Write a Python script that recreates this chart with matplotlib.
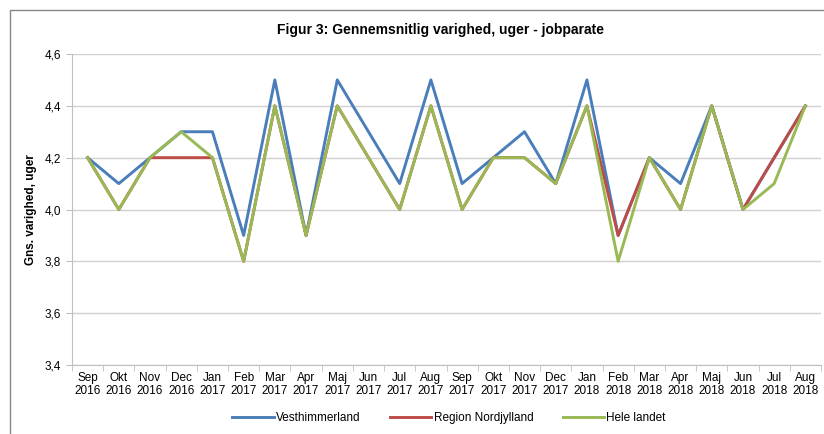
import numpy as np
import matplotlib
matplotlib.use("Agg")
from matplotlib import pyplot as plt
from matplotlib.patches import Rectangle

plt.rcParams['font.family'] = ['Liberation Sans', 'DejaVu Sans']

months = ["Sep", "Okt", "Nov", "Dec", "Jan", "Feb", "Mar", "Apr", "Maj", "Jun", "Jul", "Aug",
          "Sep", "Okt", "Nov", "Dec", "Jan", "Feb", "Mar", "Apr", "Maj", "Jun", "Jul", "Aug"]
years = ["2016"] * 4 + ["2017"] * 12 + ["2018"] * 8
labels = [m + "\n" + y for m, y in zip(months, years)]

vesthimmerland = [4.2, 4.1, 4.2, 4.3, 4.3, 3.9, 4.5, 3.9, 4.5, 4.3, 4.1, 4.5,
                  4.1, 4.2, 4.3, 4.1, 4.5, 3.9, 4.2, 4.1, 4.4, 4.0, 4.2, 4.4]
nordjylland = [4.2, 4.0, 4.2, 4.2, 4.2, 3.8, 4.4, 3.9, 4.4, 4.2, 4.0, 4.4,
               4.0, 4.2, 4.2, 4.1, 4.4, 3.9, 4.2, 4.0, 4.4, 4.0, 4.2, 4.4]
hele_landet = [4.2, 4.0, 4.2, 4.3, 4.2, 3.8, 4.4, 3.9, 4.4, 4.2, 4.0, 4.4,
               4.0, 4.2, 4.2, 4.1, 4.4, 3.8, 4.2, 4.0, 4.4, 4.0, 4.1, 4.4]

fig = plt.figure(figsize=(8.24, 4.34), dpi=100)
# partial chart frame like the cropped Excel chart
fig.patches.append(Rectangle((10 / 824, -0.1), 1.2, 1 - 10 / 434 + 0.1,
                             transform=fig.transFigure, fill=False,
                             edgecolor="#868686", linewidth=1.0))

ax = fig.add_axes([72 / 824, 1 - 365 / 434, (821 - 72) / 824, (365 - 54) / 434])
x = np.arange(len(labels))
ax.plot(x, vesthimmerland, color="#4a7ebb", lw=2.1, label="Vesthimmerland")
ax.plot(x, nordjylland, color="#be4b48", lw=2.1, label="Region Nordjylland")
ax.plot(x, hele_landet, color="#98b954", lw=2.1, label="Hele landet")

ax.set_xlim(-0.5, len(labels) - 0.5)
ax.set_ylim(3.4, 4.6)
yt = np.arange(3.4, 4.61, 0.2)
ax.set_yticks(yt)
ax.set_yticklabels([f"{v:.1f}".replace(".", ",") for v in yt], fontsize=8.5)
ax.grid(axis="y", color="#d0d0d0", lw=1)
ax.set_axisbelow(True)

ax.set_xticks(x)
ax.set_xticklabels(labels, fontsize=8.5, linespacing=1.15)
ax.tick_params(axis="x", length=0, pad=5)
ax.set_xticks(np.arange(-0.5, len(labels), 1), minor=True)
ax.tick_params(axis="x", which="minor", length=4, color="#bfbfbf")
ax.tick_params(axis="y", length=4, color="#bfbfbf", pad=4)

for s in ["top", "right"]:
    ax.spines[s].set_visible(False)
for s in ["left", "bottom"]:
    ax.spines[s].set_color("#bfbfbf")

ax.set_ylabel("Gns. varighed, uger", fontsize=8.5, fontweight="bold", labelpad=5)
fig.text(0.535, 1 - 30 / 434, "Figur 3: Gennemsnitlig varighed, uger - jobparate",
         ha="center", va="center", fontsize=10, fontweight="bold")

fig.legend(loc="center", bbox_to_anchor=(0.545, 1 - 418 / 434), ncol=3, frameon=False,
           fontsize=8.5, handlelength=3.5, columnspacing=2.5, handletextpad=0.2)

fig.savefig("out.png", dpi=100)
